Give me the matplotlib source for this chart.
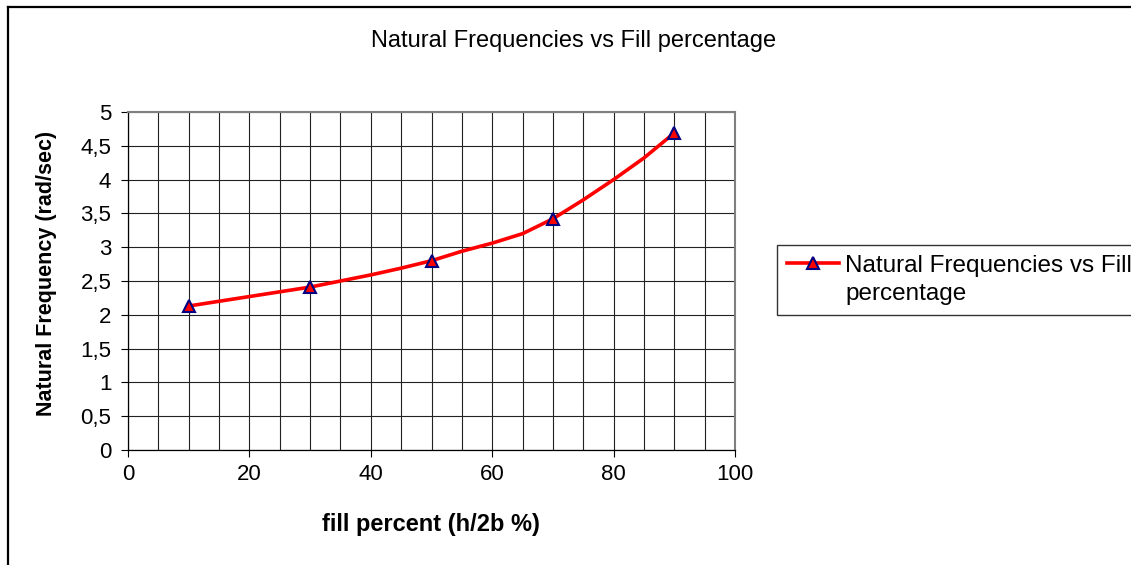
import matplotlib
matplotlib.use("Agg")
import matplotlib.pyplot as plt
from matplotlib.ticker import MultipleLocator, FuncFormatter
from matplotlib.lines import Line2D

plt.rcParams['font.family'] = ['Liberation Sans', 'DejaVu Sans']

# Data
fill_pct_markers = [10, 30, 50, 70, 90]
freq_markers = [2.13, 2.41, 2.80, 3.42, 4.69]

fill_pct_line = [10, 15, 20, 25, 30, 35, 40, 45, 50, 55, 60, 65, 70, 75, 80, 85, 90]
freq_line = [2.13, 2.20, 2.27, 2.34, 2.41, 2.50, 2.59, 2.69, 2.80, 2.94, 3.06, 3.20,
             3.42, 3.70, 4.00, 4.32, 4.69]

title = "Natural Frequencies vs Fill percentage"
xlabel = "fill percent (h/2b %)"
ylabel = "Natural Frequency (rad/sec)"
legend_lines = ["Natural Frequencies vs Fill", "percentage"]

W, H = 1131, 565
fig = plt.figure(figsize=(W / 100, H / 100), dpi=100)
fig.patch.set_facecolor('white')

# outer chart frame (top and left edges visible)
fig.add_artist(Line2D([8 / W, 8 / W], [0, 1 - 7 / H], transform=fig.transFigure,
                      color='black', lw=1.6))
fig.add_artist(Line2D([8 / W, 1], [1 - 7 / H, 1 - 7 / H], transform=fig.transFigure,
                      color='black', lw=1.6))

ax = fig.add_axes([128 / W, (H - 450) / H, (735 - 128) / W, (450 - 112) / H])
ax.set_xlim(0, 100)
ax.set_ylim(0, 5)

ax.xaxis.set_major_locator(MultipleLocator(20))
ax.xaxis.set_minor_locator(MultipleLocator(5))
ax.yaxis.set_major_locator(MultipleLocator(0.5))
ax.yaxis.set_major_formatter(FuncFormatter(lambda v, p: ('%g' % v).replace('.', ',')))

ax.grid(True, which='both', axis='x', color='#222222', lw=0.8)
ax.grid(True, which='major', axis='y', color='#222222', lw=0.8)
ax.set_axisbelow(True)

ax.tick_params(axis='both', which='major', direction='out', length=5, width=0.8,
               labelsize=16, colors='black')
ax.tick_params(axis='y', which='major', pad=7)
ax.tick_params(axis='x', which='major', pad=5)
ax.tick_params(axis='x', which='minor', length=0)

for s in ['top', 'right']:
    ax.spines[s].set_color('#808080')
    ax.spines[s].set_linewidth(1.5)
for s in ['left', 'bottom']:
    ax.spines[s].set_color('black')
    ax.spines[s].set_linewidth(0.9)

ax.plot(fill_pct_line, freq_line, color='red', lw=2.6, solid_joinstyle='round', zorder=3)
ax.plot(fill_pct_markers, freq_markers, linestyle='none', marker='^', markersize=9,
        markerfacecolor='red', markeredgecolor='#000080', markeredgewidth=1.5, zorder=4)

ax.set_xlabel(xlabel, fontsize=17, fontweight='bold')
ax.set_ylabel(ylabel, fontsize=15.5, fontweight='bold')
ax.xaxis.set_label_coords((431 - 128) / 607, (450 - 525) / 338)
ax.xaxis.label.set_va('center')
ax.yaxis.set_label_coords((47 - 128) / 607, (450 - 273) / 338)
ax.yaxis.label.set_va('center')

fig.text(574 / W, 1 - 41 / H, title, ha='center', va='center', fontsize=17)

handle = Line2D([], [], color='red', lw=2.6, marker='^', markersize=9,
                markerfacecolor='red', markeredgecolor='#000080', markeredgewidth=1.5)
blank = Line2D([], [], color='none', lw=0)
leg = fig.legend([handle, blank], legend_lines, loc='upper left',
                 bbox_to_anchor=(777 / W, 1 - 245 / H), fontsize=17.5,
                 frameon=True, fancybox=False, edgecolor='black', borderpad=0.4,
                 handlelength=2.15, handletextpad=0.25, borderaxespad=0,
                 labelspacing=0.25)
leg.get_frame().set_linewidth(1.0)

fig.savefig('out.png', dpi=100, facecolor='white')
